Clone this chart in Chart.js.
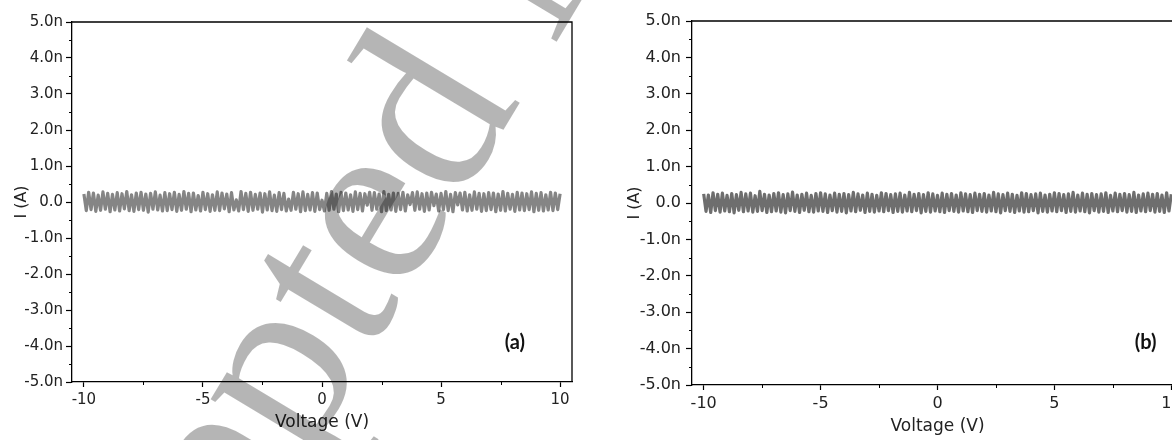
<!DOCTYPE html>
<html lang="en">
<head>
    <meta charset="UTF-8">
    <title>I-V noise, panels (a) and (b)</title>
    <script src="https://cdn.jsdelivr.net/npm/chart.js"></script>
    <style>
        html, body { margin: 0; padding: 0; background: #fff; overflow: hidden; }
        .page { position: relative; width: 1172px; height: 440px; overflow: hidden; }
        #chartA { position: absolute; left: 0; top: 0; }
        #chartB { position: absolute; left: 610px; top: 0; }
        #stamp { position: absolute; left: 0; top: 0; pointer-events: none; }
    </style>
</head>
<body>
<div class="page">
    <canvas id="chartA" width="590" height="440"></canvas>
    <canvas id="chartB" width="591" height="440"></canvas>
    <svg id="stamp" width="1172" height="440">
        <text transform="translate(45,893) rotate(-59)" font-family="Liberation Serif, serif" font-size="245" fill="rgba(0,0,0,0.29)">Accepted Manuscript</text>
    </svg>
</div>

<script>
    // voltage sweep: -10 V to 10 V, 0.1 V steps
    const vStart = -10;
    const vStep = 0.1;

    const xTickValues = [-10, -5, 0, 5, 10];
    const yTickValues = [-5, -4, -3, -2, -1, 0, 1, 2, 3, 4, 5];

    // current in nA, panel (a)
    const currentA = [
        0.22,-0.24,0.27,-0.21,0.25,-0.26,0.19,-0.23,0.28,-0.20,
        0.24,-0.27,0.21,-0.22,0.26,-0.25,0.23,-0.19,0.29,-0.24,
        0.20,-0.26,0.25,-0.21,0.27,-0.23,0.22,-0.28,0.24,-0.20,
        0.28,-0.22,0.19,-0.25,0.26,-0.24,0.23,-0.21,0.27,-0.26,
        0.21,-0.23,0.29,-0.20,0.24,-0.27,0.25,-0.22,0.18,-0.25,
        0.27,-0.21,0.23,-0.26,0.20,-0.23,0.28,-0.24,0.25,-0.19,
        0.22,-0.27,0.26,-0.22,0.06,-0.25,0.29,-0.21,0.24,-0.26,
        0.27,-0.23,0.21,-0.20,0.25,-0.28,0.23,-0.22,0.28,-0.24,
        0.19,-0.26,0.26,-0.21,0.24,-0.25,0.08,-0.23,0.27,-0.20,
        0.23,-0.27,0.28,-0.24,0.21,-0.22,0.26,-0.26,0.25,-0.21,
        0.05,-0.25,0.24,-0.23,0.29,-0.20,0.22,-0.27,0.27,-0.24,
        0.25,-0.22,0.20,-0.26,0.28,-0.21,0.24,-0.25,0.23,-0.09,
        0.27,-0.23,0.26,-0.20,0.22,-0.27,0.29,-0.24,0.21,-0.22,
        0.25,-0.26,0.24,-0.21,0.27,-0.25,0.20,-0.07,0.26,-0.23,
        0.28,-0.20,0.23,-0.26,0.25,-0.22,0.27,-0.10,0.22,-0.25,
        0.24,-0.21,0.29,-0.24,0.21,-0.27,0.26,-0.08,0.25,-0.22,
        0.27,-0.25,0.20,-0.23,0.28,-0.20,0.24,-0.26,0.23,-0.24,
        0.26,-0.21,0.25,-0.27,0.22,-0.23,0.29,-0.25,0.24,-0.20,
        0.21,-0.26,0.27,-0.22,0.25,-0.24,0.23,-0.21,0.28,-0.27,
        0.24,-0.23,0.26,-0.25,0.20,-0.22,0.27,-0.24,0.25,-0.21,
        0.23
    ];

    // current in nA, panel (b)
    const currentB = [
        0.25,-0.23,0.22,-0.26,0.28,-0.21,0.24,-0.25,0.27,-0.22,
        0.21,-0.24,0.26,-0.27,0.23,-0.20,0.29,-0.24,0.25,-0.22,
        0.27,-0.25,0.20,-0.23,0.32,-0.21,0.24,-0.26,0.22,-0.24,
        0.26,-0.22,0.28,-0.25,0.23,-0.27,0.25,-0.21,0.30,-0.23,
        0.22,-0.26,0.24,-0.20,0.27,-0.24,0.21,-0.25,0.26,-0.22,
        0.28,-0.23,0.25,-0.26,0.22,-0.21,0.27,-0.25,0.24,-0.23,
        0.26,-0.27,0.23,-0.22,0.29,-0.24,0.25,-0.20,0.22,-0.26,
        0.27,-0.23,0.24,-0.25,0.21,-0.22,0.28,-0.24,0.26,-0.21,
        0.23,-0.26,0.25,-0.23,0.27,-0.25,0.22,-0.22,0.29,-0.24,
        0.24,-0.21,0.26,-0.27,0.23,-0.23,0.28,-0.25,0.25,-0.22,
        0.21,-0.24,0.27,-0.26,0.24,-0.21,0.26,-0.23,0.22,-0.25,
        0.28,-0.22,0.25,-0.24,0.23,-0.26,0.27,-0.21,0.24,-0.23,
        0.26,-0.25,0.22,-0.22,0.29,-0.24,0.25,-0.27,0.23,-0.21,
        0.27,-0.23,0.24,-0.26,0.21,-0.22,0.28,-0.25,0.26,-0.24,
        0.23,-0.21,0.25,-0.27,0.27,-0.23,0.22,-0.25,0.24,-0.22,
        0.28,-0.24,0.26,-0.21,0.23,-0.26,0.25,-0.23,0.29,-0.25,
        0.22,-0.22,0.27,-0.24,0.24,-0.27,0.26,-0.21,0.23,-0.25,
        0.25,-0.23,0.28,-0.26,0.21,-0.22,0.27,-0.24,0.24,-0.21,
        0.26,-0.25,0.23,-0.23,0.29,-0.26,0.22,-0.22,0.25,-0.24,
        0.27,-0.21,0.24,-0.25,0.26,-0.23,0.22,-0.26,0.28,-0.22,
        0.24
    ];

    function toPoints(values) {
        return values.map((v, i) => ({ x: vStart + i * vStep, y: v }));
    }

    function yLabel(v) {
        return v === 0 ? '0.0' : v.toFixed(1) + 'n';
    }

    // top + right frame lines, minor ticks and the panel letter
    const framePlugin = {
        id: 'frame',
        afterDraw(chart, args, opts) {
            const ctx = chart.ctx;
            const area = chart.chartArea;
            const xs = chart.scales.x, ys = chart.scales.y;
            ctx.save();
            ctx.strokeStyle = '#000';
            ctx.lineWidth = 1.3;
            ctx.beginPath();
            ctx.moveTo(area.left, area.top);
            ctx.lineTo(area.right, area.top);
            ctx.lineTo(area.right, area.bottom);
            ctx.stroke();

            ctx.lineWidth = 1;
            ctx.beginPath();
            const xt = xs.ticks.map(t => t.value);
            for (let i = 0; i < xt.length - 1; i++) {
                const px = Math.round(xs.getPixelForValue((xt[i] + xt[i + 1]) / 2)) + 0.5;
                ctx.moveTo(px, area.bottom);
                ctx.lineTo(px, area.bottom + 3);
            }
            const yt = ys.ticks.map(t => t.value);
            for (let i = 0; i < yt.length - 1; i++) {
                const py = Math.round(ys.getPixelForValue((yt[i] + yt[i + 1]) / 2)) + 0.5;
                ctx.moveTo(area.left, py);
                ctx.lineTo(area.left - 3, py);
            }
            ctx.stroke();

            ctx.fillStyle = '#111';
            ctx.font = 'bold 20px Lato, sans-serif';
            ctx.textAlign = 'center';
            ctx.textBaseline = 'middle';
            ctx.fillText(opts.text, xs.getPixelForValue(opts.x), ys.getPixelForValue(opts.y));
            ctx.restore();
        }
    };

    function makeChart(id, values, cfg) {
        const ctx = document.getElementById(id).getContext('2d');
        return new Chart(ctx, {
            type: 'line',
            data: {
                datasets: [{
                    data: toPoints(values),
                    borderColor: cfg.color,
                    borderWidth: cfg.lineWidth,
                    borderJoinStyle: 'round',
                    pointRadius: 0,
                    tension: 0,
                    fill: false
                }]
            },
            options: {
                responsive: false,
                animation: false,
                devicePixelRatio: 1,
                layout: { padding: { top: cfg.top, right: 18, left: 0, bottom: 0 } },
                plugins: {
                    legend: { display: false },
                    tooltip: { enabled: false },
                    frame: { text: cfg.letter, x: cfg.letterX, y: cfg.letterY }
                },
                scales: {
                    x: {
                        type: 'linear',
                        min: -10.5,
                        max: 10.5,
                        afterFit: s => { s.height = cfg.xHeight; },
                        afterBuildTicks: s => { s.ticks = xTickValues.map(v => ({ value: v })); },
                        ticks: {
                            font: { family: 'DejaVu Sans', size: cfg.tickSize },
                            color: '#222',
                            padding: 4,
                            maxRotation: 0
                        },
                        grid: { drawOnChartArea: false, drawTicks: true, tickLength: 5, tickColor: '#000', tickWidth: 1.2 },
                        border: { display: true, color: '#000', width: 1.3 },
                        title: {
                            display: true,
                            text: 'Voltage (V)',
                            color: '#222',
                            font: { family: 'DejaVu Sans', size: 17 },
                            padding: { top: 0, bottom: cfg.xTitlePad }
                        }
                    },
                    y: {
                        type: 'linear',
                        min: -5,
                        max: 5,
                        afterFit: s => { s.width = cfg.yWidth; },
                        afterBuildTicks: s => { s.ticks = yTickValues.map(v => ({ value: v })); },
                        ticks: {
                            font: { family: 'DejaVu Sans', size: cfg.tickSize },
                            color: '#222',
                            padding: cfg.yTickPad,
                            callback: v => yLabel(v)
                        },
                        grid: { drawOnChartArea: false, drawTicks: true, tickLength: 6, tickColor: '#000', tickWidth: 1.2 },
                        border: { display: true, color: '#000', width: 1.3 },
                        title: {
                            display: true,
                            text: 'I (A)',
                            color: '#222',
                            font: { family: 'DejaVu Sans', size: 16 },
                            padding: { top: cfg.yTitlePad, bottom: 0 }
                        }
                    }
                }
            },
            plugins: [framePlugin]
        });
    }

    makeChart('chartA', currentA, {
        color: '#858585', lineWidth: 3.2, top: 22, xHeight: 58, yWidth: 72,
        tickSize: 15, yTickPad: 3, xTitlePad: 7, yTitlePad: 12,
        letter: '(a)', letterX: 8.1, letterY: -3.9
    });

    makeChart('chartB', currentB, {
        color: '#6e6e6e', lineWidth: 3.2, top: 21, xHeight: 55, yWidth: 82,
        tickSize: 16, yTickPad: 5, xTitlePad: 3, yTitlePad: 15,
        letter: '(b)', letterX: 8.9, letterY: -3.82
    });
</script>
</body>
</html>
